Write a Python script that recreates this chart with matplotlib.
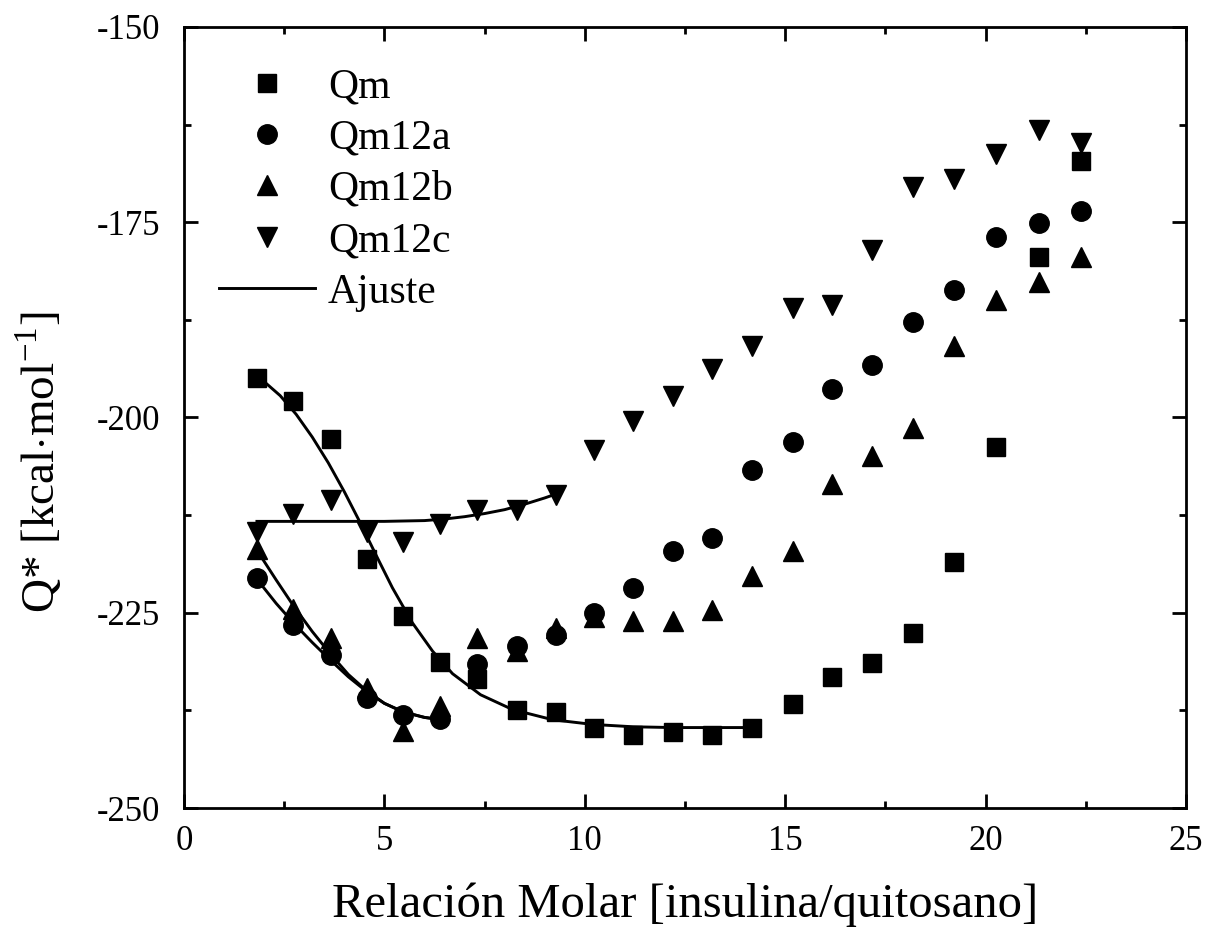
import matplotlib
matplotlib.use("Agg")
import matplotlib.pyplot as plt
from matplotlib.ticker import MultipleLocator

plt.rcParams['font.family'] = ['Liberation Serif', 'DejaVu Serif']
plt.rcParams['mathtext.fontset'] = 'custom'
plt.rcParams['mathtext.rm'] = 'Liberation Serif'
plt.rcParams['axes.unicode_minus'] = False

# relacion molar insulina/quitosano
ratio = [1.82, 2.72, 3.67, 4.56, 5.46, 6.38, 7.31, 8.30, 9.28, 10.22, 11.20,
         12.19, 13.17, 14.16, 15.19, 16.16, 17.16, 18.18, 19.20, 20.25, 21.32, 22.37]

qm = [-195.0, -197.9, -202.7, -218.1, -225.4, -231.3, -233.5, -237.4, -237.7, -239.7, -240.7,
      -240.3, -240.6, -239.7, -236.7, -233.2, -231.4, -227.6, -218.5, -203.8, -179.5, -167.1]
qm12a = [-220.6, -226.6, -230.4, -235.9, -238.1, -238.6, -231.5, -229.2, -227.9, -225.0, -221.8,
         -217.1, -215.4, -206.7, -203.2, -196.4, -193.3, -187.8, -183.7, -176.9, -175.1, -173.5]
qm12b = [-216.8, -224.5, -228.2, -234.6, -240.1, -236.9, -228.2, -229.9, -226.9, -225.6, -226.0,
         -226.0, -224.7, -220.3, -217.1, -208.5, -204.9, -201.3, -190.8, -185.0, -182.6, -179.4]
qm12c = [-214.7, -212.3, -210.5, -214.7, -215.9, -213.6, -211.9, -211.9, -209.9, -204.1, -200.5,
         -197.3, -193.8, -190.9, -186.0, -185.6, -178.5, -170.5, -169.4, -166.2, -163.2, -164.9]

# curvas de ajuste
fit_qm_x = [1.82, 2.4, 2.8, 3.2, 3.6, 4.0, 4.4, 4.8, 5.2, 5.7, 6.2, 6.7, 7.4, 8.2,
            9.2, 10.2, 11.2, 12.2, 13.2, 14.16]
fit_qm_y = [-194.6, -197.2, -199.6, -202.5, -205.8, -209.5, -213.5, -217.7, -221.8, -226.3,
            -229.9, -232.8, -235.5, -237.4, -238.7, -239.3, -239.6, -239.7, -239.7, -239.7]
fit_ab_x = [1.82, 2.3, 2.73, 3.2, 3.64, 4.1, 4.56, 5.0, 5.47, 6.0, 6.43]
fit_a_y = [-220.7, -223.8, -226.3, -228.8, -231.0, -233.2, -235.1, -236.6, -237.7, -238.4, -238.7]
fit_b_y = [-217.0, -220.8, -224.1, -227.4, -230.2, -232.9, -235.0, -236.6, -237.7, -238.4, -238.7]
fit_c_x = [1.82, 3.0, 4.0, 5.0, 6.0, 6.5, 7.0, 7.5, 8.0, 8.5, 9.0, 9.28]
fit_c_y = [-213.3, -213.3, -213.3, -213.3, -213.2, -213.0, -212.7, -212.3, -211.8, -211.1,
           -210.3, -209.8]

fig = plt.figure(figsize=(12.08, 9.34), dpi=100)
ax = fig.add_axes([0.1523, 0.1349, 0.8295, 0.8362])

ax.plot(fit_qm_x, fit_qm_y, color='black', lw=2.1, zorder=2)
ax.plot(fit_ab_x, fit_a_y, color='black', lw=2.1, zorder=2)
ax.plot(fit_ab_x, fit_b_y, color='black', lw=2.1, zorder=2)
ax.plot(fit_c_x, fit_c_y, color='black', lw=2.1, zorder=2)

ax.plot(ratio, qm, 's', color='black', ms=12.5, ls='none', label='Qm', zorder=3)
ax.plot(ratio, qm12a, 'o', color='black', ms=14, ls='none', label='Qm12a', zorder=3)
ax.plot(ratio, qm12b, '^', color='black', ms=14.5, ls='none', label='Qm12b', zorder=3)
ax.plot(ratio, qm12c, 'v', color='black', ms=14.5, ls='none', label='Qm12c', zorder=3)
ax.plot([], [], color='black', lw=2.1, label='Ajuste')

ax.set_xlim(0, 25)
ax.set_ylim(-250, -150)
ax.xaxis.set_major_locator(MultipleLocator(5))
ax.xaxis.set_minor_locator(MultipleLocator(2.5))
ax.yaxis.set_major_locator(MultipleLocator(25))
ax.yaxis.set_minor_locator(MultipleLocator(12.5))

for s in ax.spines.values():
    s.set_linewidth(2)
ax.tick_params(which='both', direction='in', top=True, right=True, width=2)
ax.tick_params(which='major', length=10, labelsize=25)
ax.tick_params(axis='x', which='major', pad=12)
ax.tick_params(axis='y', which='major', pad=17)
ax.tick_params(which='minor', length=5)

ax.set_xlabel('Relación Molar [insulina/quitosano]', fontsize=35)
ax.xaxis.set_label_coords(0.5, -0.095)
ax.set_ylabel(r'Q* [kcal$\cdot$mol$^{-1}$]', fontsize=34)
ax.yaxis.set_label_coords(-0.119, 0.443)

ax.legend(loc='upper left', bbox_to_anchor=(0.035, 0.948), frameon=False, fontsize=30,
          handlelength=2.3, handletextpad=0.31, labelspacing=0.31, borderpad=0,
          borderaxespad=0)

plt.savefig('out.png', dpi=100)
